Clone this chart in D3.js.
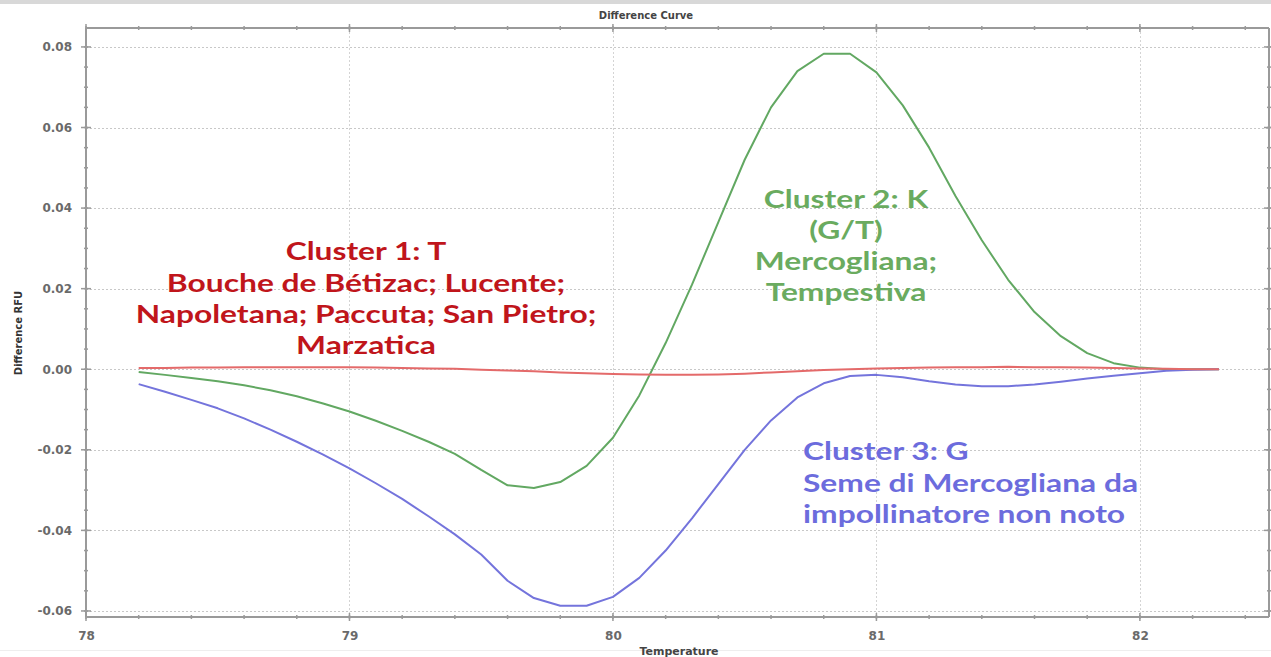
<!DOCTYPE html>
<html>
<head>
<meta charset="utf-8">
<script src="https://cdn.jsdelivr.net/npm/d3@7"></script>
<style>
  html, body { margin: 0; padding: 0; background: #fff; }
  svg { display: block; }
</style>
</head>
<body>
<svg id="chart" width="1271" height="657"></svg>
<script>
// ---------- data ----------
const temperatures = [78.2, 78.3, 78.4, 78.5, 78.6, 78.7, 78.8, 78.9, 79.0, 79.1,
  79.2, 79.3, 79.4, 79.5, 79.6, 79.7, 79.8, 79.9, 80.0, 80.1,
  80.2, 80.3, 80.4, 80.5, 80.6, 80.7, 80.8, 80.9, 81.0, 81.1,
  81.2, 81.3, 81.4, 81.5, 81.6, 81.7, 81.8, 81.9, 82.0, 82.1, 82.2, 82.3];

const cluster1T = [0.0003, 0.0003, 0.0004, 0.0004, 0.0005, 0.0005, 0.0005, 0.0005, 0.0005,
  0.0004, 0.0003, 0.0002, 0.0001, -0.0001, -0.0003, -0.0005, -0.0008, -0.0010, -0.0012,
  -0.0013, -0.0014, -0.0014, -0.0013, -0.0011, -0.0008, -0.0005, -0.0002, 0.0000, 0.0002,
  0.0003, 0.0004, 0.0005, 0.0005, 0.0006, 0.0005, 0.0005, 0.0004, 0.0003, 0.0002,
  0.0001, 0.0000, 0.0000];

const cluster2K = [-0.0007, -0.0014, -0.0022, -0.0030, -0.0040, -0.0052, -0.0067, -0.0085, -0.0105,
  -0.0128, -0.0153, -0.0180, -0.0210, -0.0250, -0.0288, -0.0295, -0.0280, -0.0240, -0.0170,
  -0.0065, 0.0065, 0.0210, 0.0365, 0.0520, 0.0650, 0.0740, 0.0783, 0.0783, 0.0737,
  0.0655, 0.0550, 0.0430, 0.0320, 0.0222, 0.0142, 0.0082, 0.0040, 0.0015, 0.0004,
  0.0000, 0.0000, 0.0000];

const cluster3G = [-0.0037, -0.0056, -0.0076, -0.0097, -0.0122, -0.0150, -0.0180, -0.0212, -0.0246,
  -0.0283, -0.0322, -0.0365, -0.0410, -0.0460, -0.0525, -0.0568, -0.0587, -0.0587, -0.0565,
  -0.0518, -0.0450, -0.0370, -0.0285, -0.0200, -0.0127, -0.0070, -0.0035, -0.0017, -0.0014,
  -0.0020, -0.0030, -0.0038, -0.0042, -0.0042, -0.0038, -0.0031, -0.0023, -0.0016, -0.0010,
  -0.0004, -0.0001, 0.0000];

const xMajorTicks = [78, 79, 80, 81, 82];
const yMajorTicks = [-0.06, -0.04, -0.02, 0.00, 0.02, 0.04, 0.06, 0.08];

const chartTitle = "Difference Curve";
const xTitle = "Temperature";
const yTitle = "Difference RFU";

const annotationsRed = ["Cluster 1: T", "Bouche de Bétizac; Lucente;", "Napoletana; Paccuta; San Pietro;", "Marzatica"];
const annotationsGreen = ["Cluster 2: K", "(G/T)", "Mercogliana;", "Tempestiva"];
const annotationsBlue = ["Cluster 3: G", "Seme di Mercogliana da", "impollinatore non noto"];

(function () {
const svg = d3.select("#chart");
const W = 1271;
const pL = 86, pR = 1269, pT = 28, pB = 617;

const x = d3.scaleLinear().domain([78, 82.49]).range([pL, pR]);
const y = d3.scaleLinear().domain([-0.0615, 0.0847]).range([pB, pT]);

// outer frame
svg.append("rect").attr("x", 0).attr("y", 0).attr("width", W).attr("height", 4).attr("fill", "#d8d8d8");
svg.append("line").attr("x1", 0).attr("x2", W).attr("y1", 650.5).attr("y2", 650.5).attr("stroke", "#eeeeee").attr("stroke-width", 1);

// gridlines
const grid = svg.append("g");
grid.selectAll(".hg").data(yMajorTicks).enter().append("line")
  .attr("x1", pL).attr("x2", pR)
  .attr("y1", d => Math.round(y(d)) + 0.5).attr("y2", d => Math.round(y(d)) + 0.5)
  .attr("stroke", "#c8c8c8").attr("stroke-width", 1).attr("stroke-dasharray", "2,2");
grid.selectAll(".vg").data(xMajorTicks.filter(d => d > 78)).enter().append("line")
  .attr("y1", pT).attr("y2", pB)
  .attr("x1", d => Math.round(x(d)) + 0.5).attr("x2", d => Math.round(x(d)) + 0.5)
  .attr("stroke", "#d4d4d4").attr("stroke-width", 1).attr("stroke-dasharray", "2,2");

const axisColor = "#9a9a9a";
const xMinor = d3.range(78, 82.49, 0.2);
const yMinor = d3.range(-0.06, 0.0848, 0.005);

function styleAxis(g) {
  g.select(".domain").remove();
  g.selectAll(".tick line").remove();
}

const xAxis = d3.axisBottom(x).tickValues(xMajorTicks).tickFormat(d3.format("d")).tickSize(0).tickPadding(14);
const gx = svg.append("g").attr("transform", `translate(0,${pB})`).call(xAxis);
styleAxis(gx);
gx.selectAll("text").attr("font-family", "DejaVu Sans").attr("font-weight", "bold")
  .attr("font-size", 12).attr("fill", "#6a6a6a");

const fmtY = d => d3.format(".2f")(d).replace("\u2212", "-");
const yAxis = d3.axisLeft(y).tickValues(yMajorTicks).tickFormat(fmtY).tickSize(0).tickPadding(14);
const gy = svg.append("g").attr("transform", `translate(${pL},0)`).call(yAxis);
styleAxis(gy);
gy.selectAll("text").attr("font-family", "DejaVu Sans").attr("font-weight", "bold")
  .attr("font-size", 12).attr("fill", "#6a6a6a");

// tick marks
const ticks = svg.append("g").attr("stroke", axisColor).attr("stroke-width", 1.5);
ticks.selectAll(".xmb").data(xMinor).enter().append("line")
  .attr("x1", d => x(d)).attr("x2", d => x(d)).attr("y1", pB - 2).attr("y2", pB + 2);
ticks.selectAll(".xmt").data(xMinor).enter().append("line")
  .attr("x1", d => x(d)).attr("x2", d => x(d)).attr("y1", pT - 2).attr("y2", pT + 2);
ticks.selectAll(".xMb").data(xMajorTicks).enter().append("line")
  .attr("x1", d => x(d)).attr("x2", d => x(d)).attr("y1", pB - 4).attr("y2", pB + 4);
ticks.selectAll(".xMt").data(xMajorTicks).enter().append("line")
  .attr("x1", d => x(d)).attr("x2", d => x(d)).attr("y1", pT - 4).attr("y2", pT + 4);
ticks.selectAll(".yml").data(yMinor).enter().append("line")
  .attr("y1", d => y(d)).attr("y2", d => y(d)).attr("x1", pL - 2).attr("x2", pL + 2);
ticks.selectAll(".ymr").data(yMinor).enter().append("line")
  .attr("y1", d => y(d)).attr("y2", d => y(d)).attr("x1", pR - 2).attr("x2", pR + 2);
ticks.selectAll(".yMl").data(yMajorTicks).enter().append("line")
  .attr("y1", d => y(d)).attr("y2", d => y(d)).attr("x1", pL - 5).attr("x2", pL + 5);
ticks.selectAll(".yMr").data(yMajorTicks).enter().append("line")
  .attr("y1", d => y(d)).attr("y2", d => y(d)).attr("x1", pR - 5).attr("x2", pR + 5);

// frame
const frame = svg.append("g").attr("stroke", axisColor).attr("stroke-width", 2);
frame.append("line").attr("x1", pL).attr("x2", pR).attr("y1", pB).attr("y2", pB);
frame.append("line").attr("x1", pL).attr("x2", pR).attr("y1", pT).attr("y2", pT);
frame.append("line").attr("x1", pL).attr("x2", pL).attr("y1", pT).attr("y2", pB);
frame.append("line").attr("x1", pR).attr("x2", pR).attr("y1", pT).attr("y2", pB);

// titles
svg.append("text").attr("x", 646).attr("y", 19).attr("text-anchor", "middle")
  .attr("font-family", "DejaVu Sans").attr("font-weight", "bold").attr("font-size", 10)
  .attr("fill", "#444").text(chartTitle);
svg.append("text").attr("x", 679).attr("y", 655).attr("text-anchor", "middle")
  .attr("font-family", "DejaVu Sans").attr("font-weight", "bold").attr("font-size", 11)
  .attr("fill", "#444").text(xTitle);
svg.append("text").attr("transform", "translate(22,333) rotate(-90)").attr("text-anchor", "middle")
  .attr("font-family", "DejaVu Sans").attr("font-weight", "bold").attr("font-size", 10)
  .attr("fill", "#333").text(yTitle);

// lines
const seriesList = [
  { values: cluster2K, color: "#62a862" },
  { values: cluster3G, color: "#7474dc" },
  { values: cluster1T, color: "#e46a6a" }
];
const line = d3.line().x((d, i) => x(temperatures[i])).y(d => y(d)).curve(d3.curveLinear);
svg.append("g").selectAll("path").data(seriesList).enter().append("path")
  .attr("d", d => line(d.values))
  .attr("fill", "none").attr("stroke", d => d.color).attr("stroke-width", 2)
  .attr("stroke-linejoin", "round");

// annotations (text stretched horizontally like the reference)
const stretch = 1.27;
function annotate(lines, color, ax, anchor, baselines) {
  const g = svg.append("g").attr("font-family", "Lato, 'Open Sans', sans-serif")
    .attr("font-weight", "bold").attr("font-size", 25).attr("fill", color);
  lines.forEach((t, i) => {
    const el = g.append("text").attr("x", ax).attr("y", baselines[i])
      .attr("text-anchor", anchor).text(t);
    const w = el.node().getComputedTextLength();
    el.attr("textLength", w * stretch).attr("lengthAdjust", "spacingAndGlyphs");
  });
}
annotate(annotationsRed, "#c0151b", 366, "middle", [260, 292, 323, 354]);
annotate(annotationsGreen, "#6aab5f", 846, "middle", [208, 239, 270, 301]);
annotate(annotationsBlue, "#6c6cdd", 803, "start", [460, 492, 523]);
})();
</script>
</body>
</html>
